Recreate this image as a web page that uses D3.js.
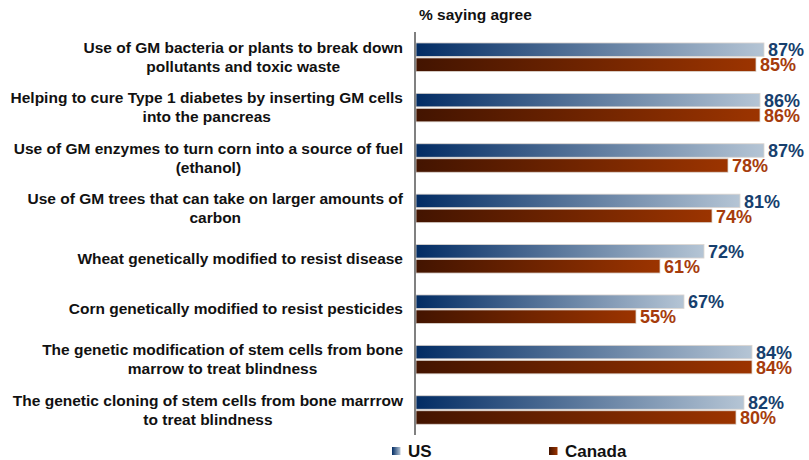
<!DOCTYPE html>
<html>
<head>
<meta charset="utf-8">
<script src="https://cdn.jsdelivr.net/npm/d3@7"></script>
<style>
  html, body { margin: 0; padding: 0; background: #fff; }
  svg { display: block; font-family: "Liberation Sans", Arial, sans-serif; }
</style>
</head>
<body>
<svg id="chart" width="809" height="460"></svg>
<script>
// Survey items (each entry is the wrapped lines of one label)
const categories = [
  ["Use of GM bacteria or plants to break down", "pollutants and toxic waste"],
  ["Helping to cure Type 1 diabetes by inserting GM cells", "into the pancreas"],
  ["Use of GM enzymes to turn corn into a source of fuel", "(ethanol)"],
  ["Use of GM trees that can take on larger amounts of", "carbon"],
  ["Wheat genetically modified to resist disease"],
  ["Corn genetically modified to resist pesticides"],
  ["The genetic modification of stem cells from bone", "marrow to treat blindness"],
  ["The genetic cloning of stem cells from bone marrrow", "to treat blindness"]
];
const seriesNames = ["US", "Canada"];
const usValues = [87, 86, 87, 81, 72, 67, 84, 82];
const canadaValues = [85, 86, 78, 74, 61, 55, 84, 80];
const title = "% saying agree";

const svg = d3.select("#chart");
const defs = svg.append("defs");

const gradients = {
  US: ["#022c64", "#b5c5d5"],
  Canada: ["#431400", "#9c3400"]
};
const labelColors = { US: "#173f6e", Canada: "#a63c0c" };

Object.entries(gradients).forEach(([name, [c0, c1]]) => {
  const g = defs.append("linearGradient").attr("id", "grad-" + name)
    .attr("x1", "0%").attr("x2", "100%").attr("y1", "0%").attr("y2", "0%");
  g.append("stop").attr("offset", "0%").attr("stop-color", c0);
  g.append("stop").attr("offset", "100%").attr("stop-color", c1);
});

const keys = categories.map((d, i) => i);
const x = d3.scaleLinear().domain([0, 100]).range([416, 816]);
const y = d3.scaleBand().domain(keys).range([32, 435.2]).padding(0);
const groupH = 28.5;
const yInner = d3.scaleBand().domain(seriesNames).range([0, groupH]).paddingInner(0.1);

const rows = keys.map(i => ({
  i,
  lines: categories[i],
  vals: [
    { s: "US", v: usValues[i] },
    { s: "Canada", v: canadaValues[i] }
  ]
}));

const plot = svg.append("g");
const row = plot.selectAll("g.row").data(rows).join("g")
  .attr("class", "row")
  .attr("transform", d => `translate(0,${y(d.i) + (y.bandwidth() - groupH) / 2})`);

row.selectAll("rect").data(d => d.vals).join("rect")
  .attr("x", x(0))
  .attr("y", d => yInner(d.s))
  .attr("width", d => x(d.v) - x(0))
  .attr("height", yInner.bandwidth())
  .attr("fill", d => `url(#grad-${d.s})`)
  .attr("stroke", "#ddd6d0")
  .attr("stroke-width", 0.8);

row.selectAll("text.val").data(d => d.vals).join("text")
  .attr("class", "val")
  .attr("x", d => x(d.v) + 4)
  .attr("y", d => yInner(d.s) + yInner.bandwidth())
  .attr("fill", d => labelColors[d.s])
  .attr("font-size", 18)
  .attr("font-weight", "bold")
  .text(d => d.v + "%");

// Category labels: block right-aligned, lines centred within the block
const labelRight = 403;
const lineH = 19;
row.each(function(d) {
  const g = d3.select(this).append("g").attr("class", "cat");
  const n = d.lines.length;
  const mid = groupH / 2 + 5;
  const texts = g.selectAll("text").data(d.lines).join("text")
    .attr("font-size", 15.5)
    .attr("font-weight", "bold")
    .attr("fill", "#111")
    .attr("text-anchor", "middle")
    .attr("y", (t, k) => mid + (k - (n - 1) / 2) * lineH)
    .text(t => t);
  let maxW = 0;
  texts.each(function() { maxW = Math.max(maxW, this.getComputedTextLength()); });
  texts.attr("x", labelRight - maxW / 2);
});

// Vertical axis line
svg.append("line")
  .attr("x1", x(0) - 1).attr("x2", x(0) - 1)
  .attr("y1", 32).attr("y2", 435)
  .attr("stroke", "#808080").attr("stroke-width", 2);

// Title
svg.append("text")
  .attr("x", 419).attr("y", 20)
  .attr("font-size", 15.5).attr("font-weight", "bold").attr("fill", "#111")
  .text(title);

// Legend
const legendPos = { US: 392, Canada: 549 };
const legend = svg.selectAll("g.legend").data(seriesNames).join("g")
  .attr("class", "legend")
  .attr("transform", d => `translate(${legendPos[d]},447)`);
legend.append("rect").attr("width", 8.5).attr("height", 8)
  .attr("fill", d => `url(#grad-${d})`);
legend.append("text").attr("x", 16).attr("y", 10)
  .attr("font-size", 17).attr("font-weight", "bold").attr("fill", "#111")
  .text(d => d);
</script>
</body>
</html>
